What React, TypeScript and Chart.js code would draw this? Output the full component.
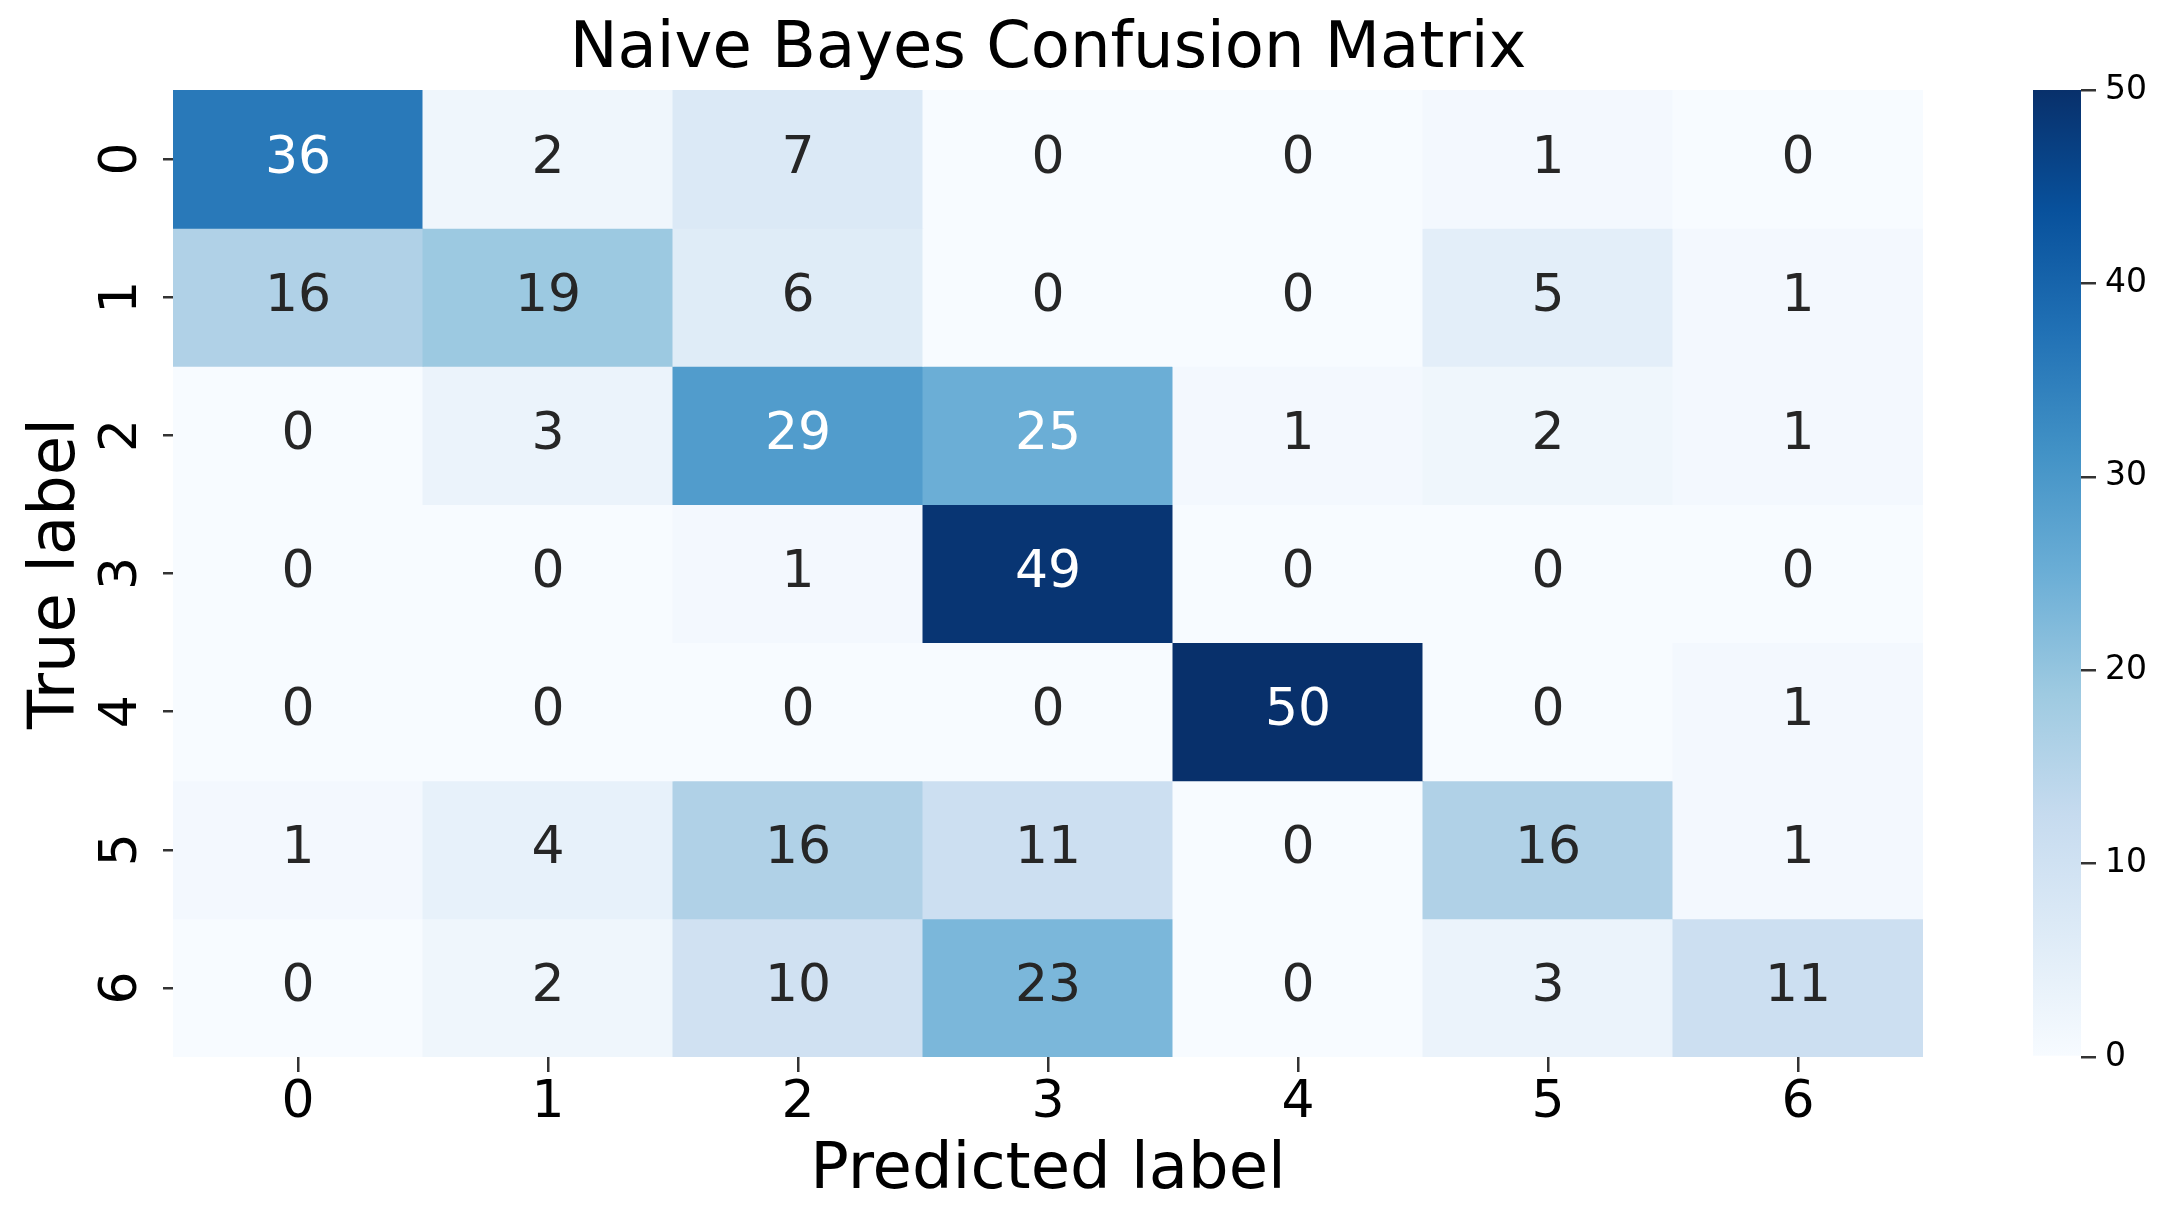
import React, { useEffect, useRef } from 'react';
import { Chart, registerables } from 'chart.js';

Chart.register(...registerables);

const FONT = 'DejaVu Sans';

const titleText = 'Naive Bayes Confusion Matrix';
const xTitle = 'Predicted label';
const yTitle = 'True label';

const predictedLabels = ['0', '1', '2', '3', '4', '5', '6'];
const trueLabels = ['0', '1', '2', '3', '4', '5', '6'];

const row0 = [36, 2, 7, 0, 0, 1, 0];
const row1 = [16, 19, 6, 0, 0, 5, 1];
const row2 = [0, 3, 29, 25, 1, 2, 1];
const row3 = [0, 0, 1, 49, 0, 0, 0];
const row4 = [0, 0, 0, 0, 50, 0, 1];
const row5 = [1, 4, 16, 11, 0, 16, 1];
const row6 = [0, 2, 10, 23, 0, 3, 11];
const counts = [row0, row1, row2, row3, row4, row5, row6];

const vmin = 0;
const vmax = 50;
const colorbarStep = 10;

// matplotlib "Blues" colormap anchor colours
const bluesStops = ['#f7fbff', '#deebf7', '#c6dbef', '#9ecae1', '#6baed6', '#4292c6', '#2171b5', '#08519c', '#08306b'];

function hexToRgb(h: string): number[] {
  const n = parseInt(h.slice(1), 16);
  return [(n >> 16) & 255, (n >> 8) & 255, n & 255];
}

function bluesRgb(v: number): number[] {
  const t = Math.min(1, Math.max(0, (v - vmin) / (vmax - vmin)));
  const pos = t * (bluesStops.length - 1);
  const i = Math.min(bluesStops.length - 2, Math.floor(pos));
  const f = pos - i;
  const a = hexToRgb(bluesStops[i]);
  const b = hexToRgb(bluesStops[i + 1]);
  return a.map((c, k) => Math.round(c + (b[k] - c) * f));
}

function bluesColor(v: number): string {
  const [r, g, b] = bluesRgb(v);
  return `rgb(${r},${g},${b})`;
}

function relLum(rgb: number[]): number {
  const [r, g, b] = rgb.map((c) => {
    const x = c / 255;
    return x <= 0.03928 ? x / 12.92 : Math.pow((x + 0.055) / 1.055, 2.4);
  });
  return 0.2126 * r + 0.7152 * g + 0.0722 * b;
}

function textColorFor(v: number): string {
  return relLum(bluesRgb(v)) > 0.408 ? '#262626' : '#ffffff';
}

const cellTextPlugin = {
  id: 'cellText',
  afterDatasetsDraw(chart: any) {
    const ctx = chart.ctx;
    ctx.save();
    ctx.font = `52px "${FONT}"`;
    ctx.textAlign = 'center';
    ctx.textBaseline = 'middle';
    counts.forEach((row, r) => {
      const meta = chart.getDatasetMeta(r);
      row.forEach((v, c) => {
        const el = meta.data[c];
        if (!el) return;
        const p = el.getProps(['x', 'y', 'base'], true);
        ctx.fillStyle = textColorFor(v);
        ctx.fillText(String(v), p.x, (p.y + p.base) / 2);
      });
    });
    ctx.restore();
  },
};

export default function App() {
  const mainRef = useRef<HTMLCanvasElement>(null);
  const barRef = useRef<HTMLCanvasElement>(null);

  useEffect(() => {
    Chart.defaults.font.family = FONT;
    const main = new Chart(mainRef.current as HTMLCanvasElement, {
      type: 'bar',
      data: {
        labels: predictedLabels,
        datasets: counts.map((row, r) => ({
          label: trueLabels[r],
          data: row.map(() => [r, r + 1]),
          backgroundColor: row.map((v) => bluesColor(v)),
          borderWidth: 0,
          grouped: false,
          barPercentage: 1,
          categoryPercentage: 1,
          inflateAmount: 0.5,
        })) as any,
      },
      options: {
        responsive: false,
        animation: false,
        devicePixelRatio: 1,
        layout: { padding: 0 },
        plugins: {
          legend: { display: false },
          tooltip: { enabled: false },
          title: {
            display: true,
            text: titleText,
            color: '#000',
            font: { size: 64, weight: 'normal', family: FONT },
            padding: { top: 12, bottom: 1.2 },
          },
        },
        scales: {
          x: {
            type: 'category',
            offset: true,
            grid: { offset: false, drawOnChartArea: false, drawTicks: true, tickLength: 15, lineWidth: 2.5, color: '#333' },
            border: { display: false },
            ticks: { font: { size: 52 }, color: '#000', padding: 0, maxRotation: 0, minRotation: 0, autoSkip: false },
            title: { display: true, text: xTitle, color: '#000', font: { size: 64 }, padding: { top: 0, bottom: 17 } },
            afterFit: (s: any) => { s.height = 170; },
          },
          y: {
            type: 'linear',
            min: 0,
            max: trueLabels.length,
            reverse: true,
            afterBuildTicks: (s: any) => { s.ticks = trueLabels.map((_, i) => ({ value: i + 0.5 })); },
            ticks: {
              callback: (_v: any, i: number) => trueLabels[i],
              font: { size: 52 },
              color: '#000',
              padding: 24,
              minRotation: 90,
              maxRotation: 90,
              crossAlign: 'center',
              autoSkip: false,
            },
            grid: { drawOnChartArea: false, drawTicks: true, tickLength: 10, lineWidth: 2.5, color: '#333' },
            border: { display: false },
            title: { display: true, text: yTitle, color: '#000', font: { size: 64 }, padding: { top: 19, bottom: 0 } },
            afterFit: (s: any) => { s.width = 173; },
          },
          yRightSpace: {
            type: 'linear',
            position: 'right',
            display: true,
            grid: { display: false },
            border: { display: false },
            ticks: { display: false },
            afterFit: (s: any) => { s.width = 173; },
          },
        },
      } as any,
      plugins: [cellTextPlugin],
    });

    const bar = new Chart(barRef.current as HTMLCanvasElement, {
      type: 'bar',
      data: {
        labels: [''],
        datasets: [{
          data: [[vmin, vmax]],
          backgroundColor: (c: any) => {
            const area = c.chart.chartArea;
            if (!area) return bluesStops[0];
            const g = c.chart.ctx.createLinearGradient(0, area.bottom, 0, area.top);
            bluesStops.forEach((col, i) => g.addColorStop(i / (bluesStops.length - 1), col));
            return g;
          },
          borderWidth: 0,
          barPercentage: 1,
          categoryPercentage: 1,
          inflateAmount: 0,
        }] as any,
      },
      options: {
        responsive: false,
        animation: false,
        devicePixelRatio: 1,
        layout: { padding: { left: 43, right: 0, top: 90, bottom: 170 } },
        plugins: { legend: { display: false }, tooltip: { enabled: false }, title: { display: false } },
        scales: {
          x: { display: false },
          y: {
            position: 'right',
            min: vmin,
            max: vmax,
            ticks: { stepSize: colorbarStep, font: { size: 33 }, color: '#000', padding: 9 },
            grid: { drawOnChartArea: false, drawTicks: true, tickLength: 15, lineWidth: 2.5, color: '#333' },
            border: { display: false },
            afterFit: (s: any) => { s.width = 98; },
          },
        },
      } as any,
    });

    return () => {
      main.destroy();
      bar.destroy();
    };
  }, []);

  return (
    <div style={{ position: 'fixed', left: 0, top: 0, width: 2179, height: 1227, background: '#fff' }}>
      <canvas ref={mainRef} width={2096} height={1227} style={{ position: 'absolute', left: 0, top: 0, width: 2096, height: 1227 }} />
      <canvas ref={barRef} width={189} height={1227} style={{ position: 'absolute', left: 1990, top: 0, width: 189, height: 1227, zIndex: 1 }} />
    </div>
  );
}
